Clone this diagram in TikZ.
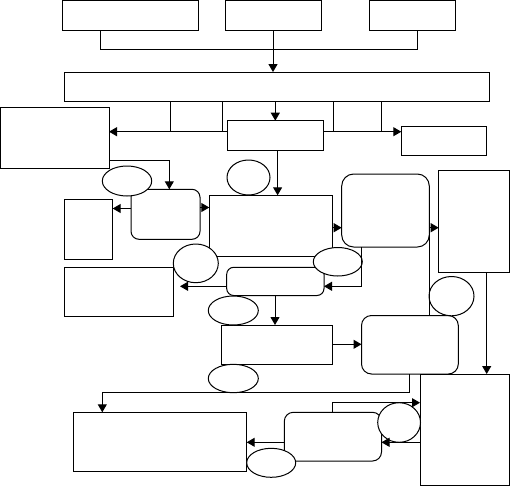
\documentclass[tikz,border=0pt]{standalone}
\usetikzlibrary{arrows.meta,shapes.geometric}
\begin{document}
\begin{tikzpicture}[x=1pt,y=-1pt,line width=1pt,
  box/.style={draw, rectangle, inner sep=0pt, outer sep=0pt},
  rbox/.style={box, rounded corners=#1},
  ell/.style={draw, ellipse, fill=white, inner sep=0pt, outer sep=0pt},
  arr/.style={-{Triangle[length=8pt,width=9pt]}}]
\useasboundingbox (0,0) rectangle (510,487);
% boxes
\node[box, minimum width=136pt, minimum height=30pt] (A) at (130,16) {};
\node[box, minimum width=96pt, minimum height=30pt] (B) at (273,16) {};
\node[box, minimum width=86pt, minimum height=30pt] (C) at (412,16) {};
\node[box, minimum width=425pt, minimum height=29.3pt] (D) at (276.5,86.7) {};
\node[box, minimum width=52pt, minimum height=30.4pt] (E) at (196,116.5) {};
\node[box, minimum width=48pt, minimum height=30.4pt] (F) at (357,116.5) {};
\node[box, minimum width=96pt, minimum height=30pt] (G) at (275.3,135.7) {};
\node[box, minimum width=108.5pt, minimum height=60.7pt] (H) at (54.75,137.65) {};
\node[box, minimum width=84.7pt, minimum height=29.3pt] (I) at (443.65,140.65) {};
\node[rbox=8pt, minimum width=69pt, minimum height=50pt] (J) at (165.5,214.3) {};
\node[box, minimum width=48.7pt, minimum height=60pt] (L) at (88.35,229.3) {};
\node[box, minimum width=123pt, minimum height=61pt] (M) at (270.8,225.8) {};
\node[rbox=12pt, minimum width=87.6pt, minimum height=73pt] (O) at (385.5,210.5) {};
\node[box, minimum width=70.6pt, minimum height=102pt] (P) at (474,221) {};
\node[rbox=7pt, minimum width=97.3pt, minimum height=28.2pt] (R) at (275.35,281.4) {};
\node[box, minimum width=109.3pt, minimum height=49pt] (S) at (118.65,291.8) {};
\node[box, minimum width=110.8pt, minimum height=39.3pt] (U) at (277.1,344.65) {};
\node[rbox=10pt, minimum width=96.8pt, minimum height=58.5pt] (X) at (409.9,344.75) {};
\node[box, minimum width=89.3pt, minimum height=111.7pt] (Q) at (464.65,429.85) {};
\node[box, minimum width=173.4pt, minimum height=58.7pt] (Z) at (160,441.65) {};
\node[rbox=9pt, minimum width=97.2pt, minimum height=48.7pt] (AA) at (332.9,436.65) {};
% ellipses
\node[ell, minimum width=49.4pt, minimum height=30pt] (K1) at (127,181) {};
\node[ell, minimum width=43pt, minimum height=35pt] (K2) at (248.5,177.5) {};
\node[ell, minimum width=45pt, minimum height=38.7pt] (N1) at (195.8,263.35) {};
\node[ell, minimum width=49pt, minimum height=28.5pt] (N2) at (337.8,261.75) {};
\node[ell, minimum width=50pt, minimum height=29pt] (T) at (233.3,310.5) {};
\node[ell, minimum width=45pt, minimum height=39.3pt] (W) at (451.5,296.15) {};
\node[ell, minimum width=50pt, minimum height=28.4pt] (Y) at (233.3,378.5) {};
\node[ell, minimum width=42.8pt, minimum height=39.6pt] (BB) at (399.1,422.5) {};
\node[ell, minimum width=49pt, minimum height=29pt] (CC) at (271.2,462.8) {};
% connectors
\coordinate (k1) at (100,49.3);
\coordinate (k2) at (417,49.3);
\draw (A.south -| k1) -- (k1) -- (k2) -- (C.south -| k2);
\draw[arr] (B.south) -- (B.south |- D.north);
\draw[arr] (D.south -| G.north) -- (G.north);
\draw[arr] (E.south -| G.west) -- (E.south -| H.east);
\draw[arr] (F.south -| G.east) -- (F.south -| I.west);
\coordinate (h1) at (169.3,160);
\draw[arr] (H.east |- h1) -- (h1) -- (h1 |- J.north);
\coordinate (g1) at (277.6,150);
\draw[arr] (G.south -| g1) -- (M.north -| g1);
\coordinate (j1) at (0,208.5);
\draw[arr] (J.west |- j1) -- (L.east |- j1);
\coordinate (j2) at (0,207.5);
\draw[arr] (J.east |- j2) -- (M.west |- j2);
\coordinate (m1) at (0,227.7);
\draw[arr] (M.east |- m1) -- (O.west |- m1);
\draw[arr] (O.east |- m1) -- (P.west |- m1);
\coordinate (o1) at (361.7,286.3);
\draw[arr] (O.south -| o1) -- (o1) -- (R.east |- o1);
\coordinate (r1) at (180,286.3);
\draw[arr] (R.west |- r1) -- (r1);
\coordinate (r2) at (275,0);
\draw[arr] (R.south -| r2) -- (U.north -| r2);
\draw (O.east) -- (O.east |- X.north);
\coordinate (p1) at (486.7,0);
\draw[arr] (P.south -| p1) -- (Q.north -| p1);
\coordinate (u1) at (0,344.3);
\draw[arr] (U.east |- u1) -- (X.west |- u1);
\coordinate (x1) at (409.5,392.7);
\coordinate (x2) at (102.3,392.7);
\draw[arr] (X.south -| x1) -- (x1) -- (x2) -- (x2 |- Z.north);
\coordinate (a1) at (332.3,402.7);
\draw[arr] (AA.north -| a1) -- (a1) -- (Q.west |- a1);
\coordinate (q1) at (0,442.3);
\draw[arr] (Q.west |- q1) -- (AA.east |- q1);
\draw[arr] (AA.west |- q1) -- (Z.east |- q1);
\end{tikzpicture}
\end{document}
